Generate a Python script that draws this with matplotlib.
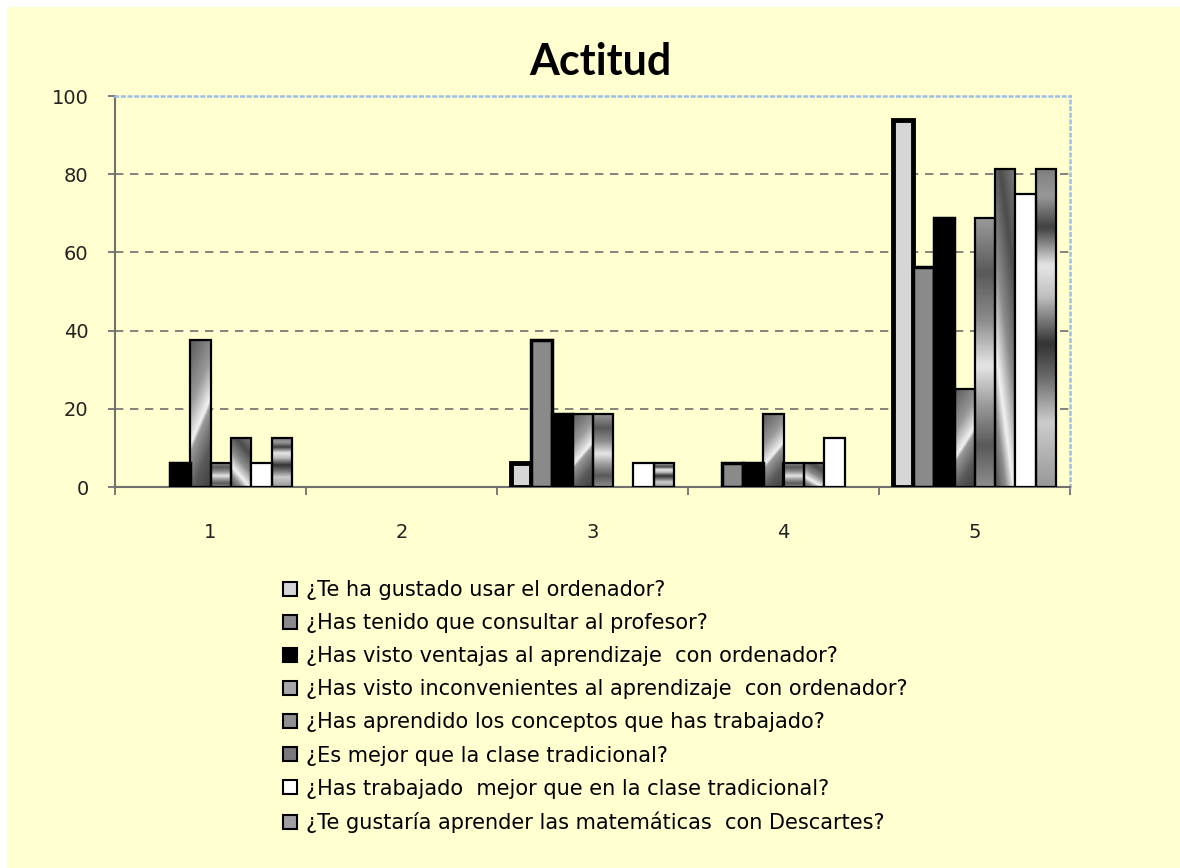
import numpy as np
import matplotlib
matplotlib.use("Agg")
import matplotlib.pyplot as plt
from matplotlib.patches import Patch, Rectangle

categories = ["1", "2", "3", "4", "5"]
series_names = [
    "¿Te ha gustado usar el ordenador?",
    "¿Has tenido que consultar al profesor?",
    "¿Has visto ventajas al aprendizaje  con ordenador?",
    "¿Has visto inconvenientes al aprendizaje  con ordenador?",
    "¿Has aprendido los conceptos que has trabajado?",
    "¿Es mejor que la clase tradicional?",
    "¿Has trabajado  mejor que en la clase tradicional?",
    "¿Te gustaría aprender las matemáticas  con Descartes?",
]
gustado = [0, 0, 6.25, 0, 93.75]
consultar = [0, 0, 37.5, 6.25, 56.25]
ventajas = [6.25, 0, 18.75, 6.25, 68.75]
inconvenientes = [37.5, 0, 18.75, 18.75, 25]
aprendido = [6.25, 0, 18.75, 6.25, 68.75]
mejor = [12.5, 0, 0, 6.25, 81.25]
trabajado = [6.25, 0, 6.25, 12.5, 75]
descartes = [12.5, 0, 6.25, 0, 81.25]
yticks = [0, 20, 40, 60, 80, 100]

values = [gustado, consultar, ventajas, inconvenientes, aprendido, mejor, trabajado, descartes]

# fill style per series: (solid colour or gradient kind, edge width, legend colour)
styles = [
    ("#D6D6D6", 3.5, "#D6D6D6"),
    ("#8A8A8A", 2.5, "#8A8A8A"),
    ("#000000", 2.5, "#000000"),
    ("diag", 1.6, "#A8A8A8"),
    ("bands", 1.6, "#909090"),
    ("diag2", 1.6, "#7A7A7A"),
    ("#FFFFFF", 1.6, "#FFFFFF"),
    ("bands2", 1.6, "#A0A0A0"),
]


def gradient(kind, n=80):
    u, v = np.meshgrid(np.linspace(0, 1, n), np.linspace(0, 1, n))
    if kind == "diag":
        t = v * 0.9 + (1 - u) * 0.3
        return np.interp(t, [0, 0.25, 0.5, 0.55, 0.8, 1.2], [0.25, 0.35, 0.6, 0.95, 0.6, 0.35])
    if kind == "diag2":
        t = v * 0.8 + u * 0.4
        return np.interp(t, [0, 0.2, 0.35, 0.6, 0.9, 1.2], [0.3, 0.55, 0.95, 0.55, 0.3, 0.5])
    if kind == "bands":
        return np.interp(v, [0, 0.15, 0.3, 0.45, 0.62, 0.8, 1], [0.55, 0.35, 0.6, 0.9, 0.55, 0.35, 0.6])
    return np.interp(v, [0, 0.2, 0.35, 0.45, 0.6, 0.7, 0.82, 0.92, 1],
                     [0.6, 0.8, 0.4, 0.2, 0.75, 0.9, 0.25, 0.6, 0.5])


bg = "#FFFFCF"
fig = plt.figure(figsize=(11.8, 8.68), dpi=100)
fig.patch.set_facecolor("white")
fig.add_artist(Rectangle((7 / 1180, 0), 1, 1 - 7 / 868, transform=fig.transFigure,
                         facecolor=bg, edgecolor="none", zorder=-10))

ax = fig.add_axes([115 / 1180, 1 - 487 / 868, 955 / 1180, 391 / 868])
ax.set_facecolor(bg)

x = np.arange(1, len(categories) + 1)
bw = 0.107
n = len(values)
for i, (vals, (fill, lw, _)) in enumerate(zip(values, styles)):
    pos = x + (i - (n - 1) / 2) * bw
    solid = fill.startswith("#")
    bars = ax.bar(pos, vals, bw, facecolor=fill if solid else "none",
                  edgecolor="black", linewidth=lw, zorder=3)
    img = None if solid else gradient(fill)
    for b in bars:
        if b.get_height() <= 0:
            b.set_visible(False)
            continue
        if img is not None:
            bx, by = b.get_xy()
            im = ax.imshow(img, extent=[bx, bx + b.get_width(), by, by + b.get_height()],
                           cmap="gray", vmin=0, vmax=1, origin="lower", aspect="auto",
                           interpolation="bilinear", zorder=2.5)
            im.set_clip_path(b)

ax.set_xlim(0.5, 5.5)
ax.set_ylim(0, 100)
ax.set_yticks(yticks)
ax.set_xticks(x)
ax.set_xticklabels(categories)
ax.set_xticks(np.arange(0.5, 6, 1), minor=True)
ax.tick_params(axis="x", which="major", length=0, pad=26, labelsize=14)
ax.tick_params(axis="x", which="minor", length=6, color="#707070", direction="out", width=1.3)
ax.tick_params(axis="y", length=5, color="#707070", direction="out", width=1.3, pad=14, labelsize=14)
for lab in ax.get_xticklabels() + ax.get_yticklabels():
    lab.set_family("DejaVu Sans")
    lab.set_color("#222222")

ax.yaxis.grid(True, linestyle=(0, (5, 4)), color="#6E6E6E", linewidth=1.2, zorder=1)
ax.set_axisbelow(True)
gl = ax.get_ygridlines()
gl[0].set_visible(False)
gl[-1].set_visible(False)

for s in ["left", "bottom"]:
    ax.spines[s].set_color("#707070")
    ax.spines[s].set_linewidth(1.5)
for s in ["top", "right"]:
    ax.spines[s].set_color("#9DBEE8")
    ax.spines[s].set_linestyle(":")
    ax.spines[s].set_linewidth(1.8)

fig.text(600 / 1180, 1 - 62 / 868, "Actitud", ha="center", va="center",
         fontsize=31, fontweight="bold", family="Lato")

handles = [Patch(facecolor=c, edgecolor="black", linewidth=1.5) for (_, _, c) in styles]
leg = fig.legend(handles, series_names, loc="upper left",
                 bbox_to_anchor=(283 / 1180, 1 - 580 / 868), frameon=False,
                 prop={"family": "DejaVu Sans", "size": 15}, handlelength=0.65, handleheight=0.65,
                 handletextpad=0.45, labelspacing=0.63, borderaxespad=0, borderpad=0)

fig.savefig("out.png", dpi=100, facecolor=fig.get_facecolor())
